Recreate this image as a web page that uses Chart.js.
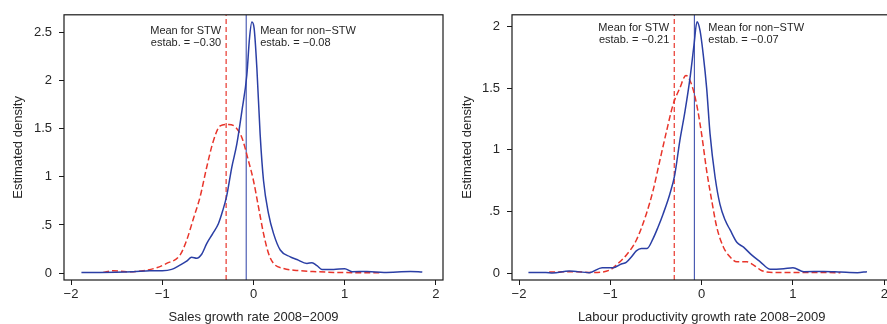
<!DOCTYPE html>
<html>
<head>
<meta charset="utf-8">
<script src="https://cdn.jsdelivr.net/npm/chart.js@4.4.1/dist/chart.umd.min.js"></script>
<style>
  html, body { margin:0; padding:0; background:#fff; overflow:hidden; width:887px; height:324px; }
  #wrapL { position:absolute; left:0; top:0; width:450px; height:324px; }
  #wrapR { position:absolute; left:440px; top:0; width:460px; height:324px; }
</style>
</head>
<body>
<div id="wrapL"><canvas id="left"></canvas></div>
<div id="wrapR"><canvas id="right"></canvas></div>
<script>
// ---------- DATA ----------
const xTicks = [-2, -1, 0, 1, 2];
const yTicksSales = [0, 0.5, 1, 1.5, 2, 2.5];
const yTicksProd = [0, 0.5, 1, 1.5, 2];

// Panel 1: Sales growth rate 2008-2009
const salesNonStwX = [-1.886,-1.685,-1.32,-1.136,-1.0,-0.897,-0.806,-0.733,-0.678,-0.623,-0.568,-0.513,-0.447,-0.385,-0.337,-0.293,-0.238,-0.183,-0.128,-0.073,-0.044,-0.018,0.007,0.037,0.073,0.11,0.165,0.22,0.293,0.403,0.476,0.586,0.641,0.696,0.75,0.879,1.0,1.08,1.245,1.43,1.72,1.85];
const salesNonStwY = [0.007,0.007,0.014,0.024,0.024,0.038,0.083,0.124,0.165,0.155,0.196,0.306,0.41,0.513,0.65,0.806,1.10,1.34,1.68,2.06,2.44,2.61,2.545,2.13,1.44,0.96,0.616,0.41,0.24,0.169,0.141,0.10,0.107,0.076,0.038,0.038,0.045,0.014,0.017,0.007,0.017,0.010];
const salesStwX = [-1.648,-1.538,-1.392,-1.209,-1.062,-0.952,-0.806,-0.733,-0.659,-0.586,-0.513,-0.44,-0.366,-0.275,-0.2,-0.128,-0.055,0,0.055,0.11,0.165,0.22,0.33,0.513,0.696,0.879,1.245,1.4];
const salesStwY = [0.007,0.024,0.014,0.024,0.055,0.10,0.186,0.34,0.565,0.79,1.10,1.374,1.53,1.546,1.52,1.41,1.167,0.96,0.685,0.41,0.203,0.10,0.048,0.024,0.014,0.007,0.003,0.003];
const salesMeanLines = [-0.30, -0.08];
const salesMeanLabels = [["Mean for STW", "estab. = \u22120.30"], ["Mean for non\u2212STW", "estab. = \u22120.08"]];

// Panel 2: Labour productivity growth rate 2008-2009
const prodNonStwX = [-1.897,-1.706,-1.633,-1.45,-1.23,-1.09,-0.97,-0.88,-0.826,-0.77,-0.716,-0.66,-0.598,-0.532,-0.477,-0.422,-0.349,-0.294,-0.24,-0.183,-0.128,-0.084,-0.051,-0.018,0.018,0.055,0.092,0.147,0.2,0.257,0.312,0.385,0.459,0.55,0.642,0.752,0.9,1.0,1.12,1.34,1.52,1.706,1.81];
const prodNonStwY = [0.005,0.005,0,0.016,0.003,0.043,0.043,0.073,0.086,0.13,0.18,0.2,0.2,0.28,0.374,0.48,0.64,0.80,1.07,1.31,1.58,1.85,2.04,1.97,1.77,1.50,1.13,0.78,0.56,0.43,0.35,0.25,0.21,0.145,0.091,0.03,0.035,0.043,0.011,0.013,0.008,0.003,0.011];
const prodStwX = [-1.67,-1.413,-1.19,-1.007,-0.935,-0.826,-0.716,-0.606,-0.532,-0.459,-0.385,-0.312,-0.24,-0.172,-0.11,-0.055,0,0.055,0.11,0.165,0.239,0.312,0.385,0.495,0.569,0.66,0.79,1.156,1.52];
const prodStwY = [0.008,0.011,0.005,0.024,0.065,0.145,0.266,0.48,0.67,0.91,1.15,1.37,1.50,1.605,1.53,1.37,1.126,0.83,0.59,0.374,0.21,0.13,0.091,0.091,0.065,0.019,0.005,0.005,0.003];
const prodMeanLines = [-0.30, -0.08];
const prodMeanLabels = [["Mean for STW", "estab. = \u22120.21"], ["Mean for non\u2212STW", "estab. = \u22120.07"]];

// ---------- STYLE ----------
const BLUE = '#2b3fa5';
const RED = '#e8352b';
const TXT = '#262626';
const FONT = "'Liberation Sans', Arial, Helvetica, sans-serif";

function pts(xs, ys) { return xs.map((x, i) => ({x: x, y: ys[i]})); }
function fmt(v) {
  let s = (Math.abs(v) < 1 && v !== 0) ? String(Math.abs(v)).replace(/^0/, '') : String(Math.abs(v));
  return (v < 0 ? '\u2212' : '') + s;
}

const framePlugin = {
  id: 'frame',
  afterDatasetsDraw(chart, args, opts) {
    const {ctx, chartArea: a, scales} = chart;
    ctx.save();
    ctx.strokeStyle = '#1a1a1a';
    ctx.lineWidth = 1.2;
    ctx.strokeRect(a.left, a.top, a.right - a.left, a.bottom - a.top);
    // annotations
    ctx.fillStyle = TXT;
    ctx.font = '11px ' + FONT;
    ctx.textBaseline = 'middle';
    const xs = scales.x;
    const lx = xs.getPixelForValue(opts.means[0]);
    const rx = xs.getPixelForValue(opts.means[1]);
    ctx.textAlign = 'right';
    ctx.fillText(opts.labels[0][0], lx - 5, a.top + opts.dy);
    ctx.fillText(opts.labels[0][1], lx - 5, a.top + opts.dy + 12.5);
    ctx.textAlign = 'left';
    ctx.fillText(opts.labels[1][0], rx + 14, a.top + opts.dy);
    ctx.fillText(opts.labels[1][1], rx + 14, a.top + opts.dy + 12.5);
    ctx.restore();
  }
};

function makeChart(id, cfg) {
  const ds = [
    { data: pts(cfg.nX, cfg.nY), borderColor: BLUE, borderWidth: 1.5, pointRadius: 0, cubicInterpolationMode: 'monotone', fill: false },
    { data: pts(cfg.sX, cfg.sY), borderColor: RED, borderWidth: 1.5, borderDash: [6, 3], pointRadius: 0, cubicInterpolationMode: 'monotone', fill: false },
    { data: [{x: cfg.means[0], y: cfg.yMin}, {x: cfg.means[0], y: cfg.yMax}], borderColor: RED, borderWidth: 1.2, borderDash: [5, 3], pointRadius: 0 },
    { data: [{x: cfg.means[1], y: cfg.yMin}, {x: cfg.means[1], y: cfg.yMax}], borderColor: BLUE, borderWidth: 1, pointRadius: 0 }
  ];
  return new Chart(document.getElementById(id), {
    type: 'line',
    data: { datasets: ds },
    plugins: [framePlugin],
    options: {
      responsive: true,
      maintainAspectRatio: false,
      animation: false,
      events: [],
      layout: { padding: { left: 0, top: 13, right: cfg.padRight, bottom: 0 } },
      plugins: {
        legend: { display: false },
        tooltip: { enabled: false },
        frame: { means: cfg.means, labels: cfg.labels, dy: cfg.dy }
      },
      scales: {
        x: {
          type: 'linear', min: -2.077, max: 2.077,
          afterBuildTicks: s => { s.ticks = xTicks.map(v => ({value: v})); },
          afterFit: s => { s.height = 44; },
          grid: { drawOnChartArea: false, drawTicks: true, tickLength: 5, color: '#1a1a1a', lineWidth: 1 },
          border: { display: false },
          ticks: { color: TXT, font: { family: FONT, size: 13 }, padding: 2, maxRotation: 0, callback: v => fmt(v) },
          title: { display: true, text: cfg.xTitle, color: TXT, font: { family: FONT, size: 13, lineHeight: 1 }, padding: { top: 0, bottom: 0 } }
        },
        y: {
          type: 'linear', min: cfg.yMin, max: cfg.yMax,
          afterBuildTicks: s => { s.ticks = cfg.yTicks.map(v => ({value: v})); },
          afterFit: s => { s.width = cfg.yWidth; },
          grid: { drawOnChartArea: false, drawTicks: true, tickLength: 5, color: '#1a1a1a', lineWidth: 1 },
          border: { display: false },
          ticks: { color: TXT, font: { family: FONT, size: 13 }, padding: 7, callback: v => fmt(v) },
          title: { display: true, text: 'Estimated density', color: TXT, font: { family: FONT, size: 13, lineHeight: 1 }, padding: { top: cfg.yTitlePad, bottom: 0 } }
        }
      }
    }
  });
}

makeChart('left', {
  nX: salesNonStwX, nY: salesNonStwY, sX: salesStwX, sY: salesStwY,
  means: salesMeanLines, labels: salesMeanLabels,
  yMin: -0.0723, yMax: 2.686, yTicks: yTicksSales,
  xTitle: 'Sales growth rate 2008\u22122009',
  padRight: 7, yWidth: 64, yTitlePad: 11.5, dy: 16
});
makeChart('right', {
  nX: prodNonStwX, nY: prodNonStwY, sX: prodStwX, sY: prodStwY,
  means: prodMeanLines, labels: prodMeanLabels,
  yMin: -0.0565, yMax: 2.097, yTicks: yTicksProd,
  xTitle: 'Labour productivity growth rate 2008\u22122009',
  padRight: 8.7, yWidth: 72, yTitlePad: 21, dy: 13
});
</script>
</body>
</html>
